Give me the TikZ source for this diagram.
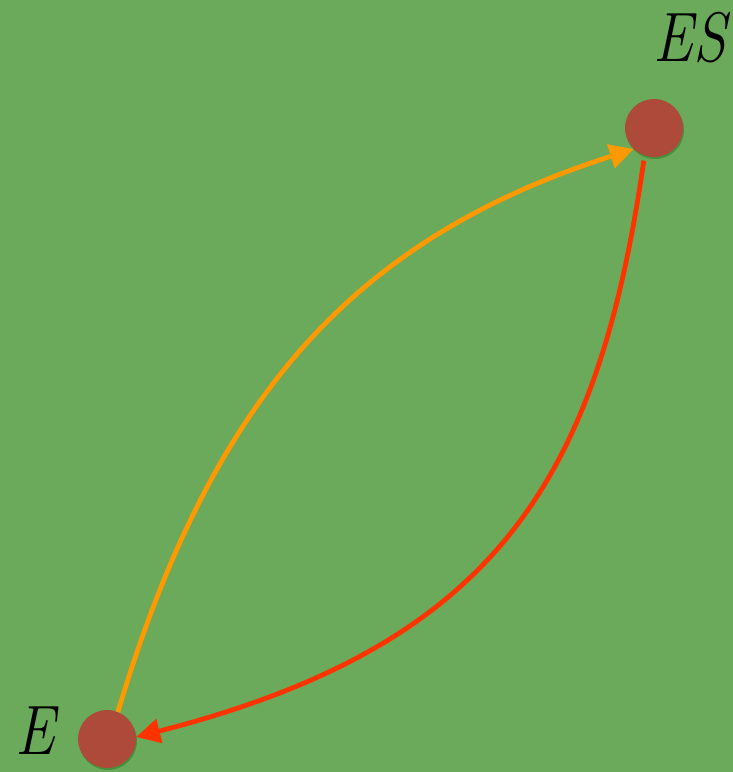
\documentclass[tikz,border=0pt]{standalone}
\usetikzlibrary{arrows.meta,shadows}
\definecolor{bggreen}{HTML}{6AAA5A}
\definecolor{dotred}{HTML}{AE4A3A}
\definecolor{arrorange}{HTML}{FF9900}
\definecolor{arrred}{HTML}{FF3300}
\begin{document}
\begin{tikzpicture}[x=1pt,y=-1pt,
  dot/.style={circle,fill=dotred,minimum size=58pt,inner sep=0pt,
    drop shadow={shadow xshift=1pt,shadow yshift=-2pt,opacity=0.35,fill=black!60!green}},
  lbl/.style={inner sep=0pt,xscale=0.85,font=\fontsize{70}{70}\selectfont\itshape},
  conn/.style={line width=4.8pt,-{Triangle[length=24pt,width=24pt]}}]
\fill[bggreen] (0,0) rectangle (733,772);
\useasboundingbox (0,0) rectangle (733,772);
\node[dot] (ES) at (654,128) {};
\node[dot] (E) at (107,739) {};
\node[lbl] (lES) at (690,38) {ES};
\node[lbl] (lE) at (35,731) {E};
\draw[conn,arrorange] (E.68) .. controls (212,396) and (355,238) .. (ES.226);
\draw[conn,arrred,shorten <=5pt] (ES.251) .. controls (598,480) and (496,645) .. (E.4);
\end{tikzpicture}
\end{document}
